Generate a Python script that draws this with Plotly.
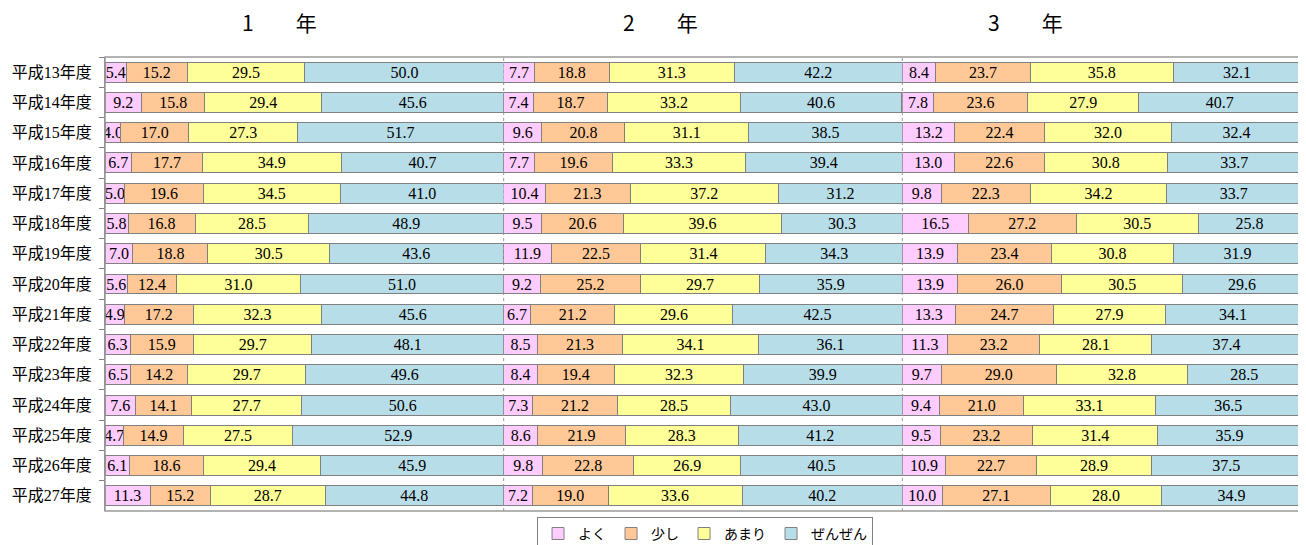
import plotly.graph_objects as go

years = ["平成13年度", "平成14年度", "平成15年度", "平成16年度", "平成17年度",
         "平成18年度", "平成19年度", "平成20年度", "平成21年度", "平成22年度",
         "平成23年度", "平成24年度", "平成25年度", "平成26年度", "平成27年度"]
series_names = ["よく", "少し", "あまり", "ぜんぜん"]
grades = ["1　　年", "2　　年", "3　　年"]

# grade 1
g1_yoku = [5.4, 9.2, 4.0, 6.7, 5.0, 5.8, 7.0, 5.6, 4.9, 6.3, 6.5, 7.6, 4.7, 6.1, 11.3]
g1_sukoshi = [15.2, 15.8, 17.0, 17.7, 19.6, 16.8, 18.8, 12.4, 17.2, 15.9, 14.2, 14.1, 14.9, 18.6, 15.2]
g1_amari = [29.5, 29.4, 27.3, 34.9, 34.5, 28.5, 30.5, 31.0, 32.3, 29.7, 29.7, 27.7, 27.5, 29.4, 28.7]
g1_zenzen = [50.0, 45.6, 51.7, 40.7, 41.0, 48.9, 43.6, 51.0, 45.6, 48.1, 49.6, 50.6, 52.9, 45.9, 44.8]
# grade 2
g2_yoku = [7.7, 7.4, 9.6, 7.7, 10.4, 9.5, 11.9, 9.2, 6.7, 8.5, 8.4, 7.3, 8.6, 9.8, 7.2]
g2_sukoshi = [18.8, 18.7, 20.8, 19.6, 21.3, 20.6, 22.5, 25.2, 21.2, 21.3, 19.4, 21.2, 21.9, 22.8, 19.0]
g2_amari = [31.3, 33.2, 31.1, 33.3, 37.2, 39.6, 31.4, 29.7, 29.6, 34.1, 32.3, 28.5, 28.3, 26.9, 33.6]
g2_zenzen = [42.2, 40.6, 38.5, 39.4, 31.2, 30.3, 34.3, 35.9, 42.5, 36.1, 39.9, 43.0, 41.2, 40.5, 40.2]
# grade 3
g3_yoku = [8.4, 7.8, 13.2, 13.0, 9.8, 16.5, 13.9, 13.9, 13.3, 11.3, 9.7, 9.4, 9.5, 10.9, 10.0]
g3_sukoshi = [23.7, 23.6, 22.4, 22.6, 22.3, 27.2, 23.4, 26.0, 24.7, 23.2, 29.0, 21.0, 23.2, 22.7, 27.1]
g3_amari = [35.8, 27.9, 32.0, 30.8, 34.2, 30.5, 30.8, 30.5, 27.9, 28.1, 32.8, 33.1, 31.4, 28.9, 28.0]
g3_zenzen = [32.1, 40.7, 32.4, 33.7, 33.7, 25.8, 31.9, 29.6, 34.1, 37.4, 28.5, 36.5, 35.9, 37.5, 34.9]

data = [
    [g1_yoku, g1_sukoshi, g1_amari, g1_zenzen],
    [g2_yoku, g2_sukoshi, g2_amari, g2_zenzen],
    [g3_yoku, g3_sukoshi, g3_amari, g3_zenzen],
]
colors = ["#FFCCFF", "#FFC896", "#FFFF99", "#B7DDE8"]
axes = ["x", "x2", "x3"]

fig = go.Figure()
for gi, grade_vals in enumerate(data):
    for si, vals in enumerate(grade_vals):
        fig.add_trace(go.Bar(
            y=years, x=vals, orientation="h", name=series_names[si],
            xaxis=axes[gi], yaxis="y",
            marker=dict(color=colors[si], line=dict(color="#808080", width=1)),
            texttemplate="%{x:.1f}", textposition="inside", insidetextanchor="middle",
            textangle=0,
            textfont=dict(family="Liberation Serif", size=16, color="black"),
            legendgroup=series_names[si], showlegend=(gi == 0),
            hoverinfo="x+y+name",
        ))

xax = dict(range=[0, 100], showticklabels=False, showgrid=False, zeroline=False,
           showline=False, ticks="", fixedrange=True)
# page body has an 8px margin, so the figure is sized/offset to compensate
fig.update_layout(
    width=1298, height=537,
    margin=dict(l=97, r=5, t=49, b=34, autoexpand=False),
    barmode="stack", bargap=0.34,
    paper_bgcolor="white", plot_bgcolor="white",
    uniformtext=dict(minsize=16, mode="show"),
    xaxis=dict(domain=[0, 1/3], **xax),
    xaxis2=dict(domain=[1/3, 2/3], **xax),
    xaxis3=dict(domain=[2/3, 1], **xax),
    yaxis=dict(categoryorder="array", categoryarray=years, autorange="reversed",
               automargin=False,
               ticks="outside", tickson="boundaries", ticklen=5, tickcolor="#808080",
               showline=True, linecolor="#808080", linewidth=1, showgrid=False,
               tickfont=dict(family="Liberation Serif, Noto Sans CJK JP", size=16, color="black"),
               ticklabelstandoff=9),
    legend=dict(orientation="h", x=0.5017, xanchor="center", y=-0.013, yanchor="top",
                bordercolor="#808080", borderwidth=1, bgcolor="white",
                font=dict(family="Noto Sans CJK JP", size=14, color="black"),
                traceorder="normal", itemwidth=30),
    font=dict(family="Noto Sans CJK JP"),
)

shapes = [
    dict(type="rect", xref="paper", yref="paper", x0=0, x1=1, y0=0, y1=1,
         line=dict(color="#9a9a9a", width=1.5), layer="above"),
    dict(type="line", xref="paper", yref="paper", x0=1/3, x1=1/3, y0=0, y1=1,
         line=dict(color="#9a9a9a", width=1, dash="dot"), layer="below"),
    dict(type="line", xref="paper", yref="paper", x0=2/3, x1=2/3, y0=0, y1=1,
         line=dict(color="#9a9a9a", width=1, dash="dot"), layer="below"),
]
fig.update_layout(shapes=shapes)

title_x = [0.146, 0.4647, 0.770]
for gi, g in enumerate(grades):
    fig.add_annotation(text=g, xref="paper", yref="paper", x=title_x[gi], y=1.077,
                       xanchor="center", yanchor="middle", showarrow=False,
                       font=dict(family="Noto Sans CJK JP", size=21, color="black"))

fig.write_html("out.html")
